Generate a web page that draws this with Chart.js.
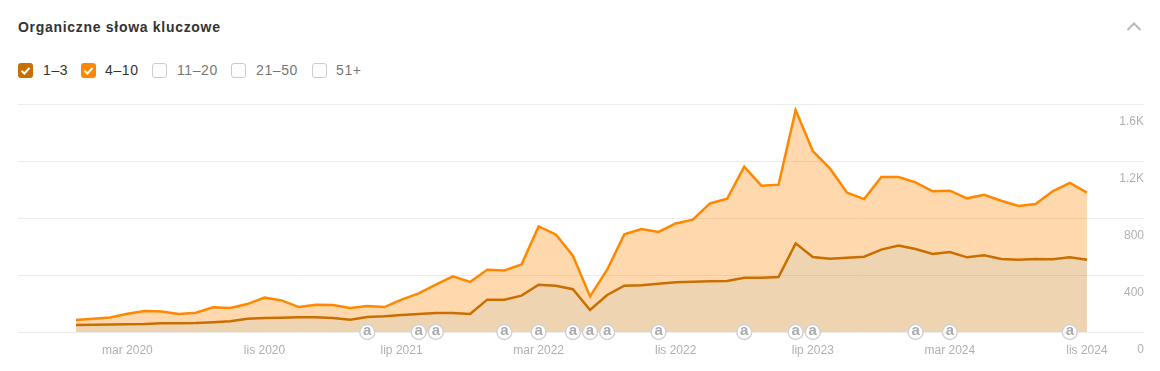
<!DOCTYPE html>
<html lang="pl">
<head>
<meta charset="utf-8">
<title>Organiczne słowa kluczowe</title>
<script src="https://cdn.jsdelivr.net/npm/chart.js@4/dist/chart.umd.min.js"></script>
<style>
    html, body { margin: 0; padding: 0; background: #fff; overflow: hidden; }
    body { width: 1160px; height: 371px; position: relative; font-family: "Liberation Sans", Arial, sans-serif; }
    #title { position: absolute; left: 18px; top: 18px; font-size: 14px; line-height: 18px; font-weight: bold; color: #333; letter-spacing: .7px; }
    #chevron { position: absolute; left: 1125px; top: 20px; }
    .check { position: absolute; top: 63px; width: 15px; height: 15px; box-sizing: border-box; border-radius: 3px; border: 1px solid #ccc; background: #fff; }
    .check.on { border: 0; }
    .check svg { display: block; }
    .lbl { position: absolute; top: 61px; font-size: 14px; line-height: 18px; color: #767676; letter-spacing: .6px; }
    .lbl.on { color: #333; }
    #wrap { position: absolute; left: 0; top: 90px; width: 1160px; height: 281px; }
</style>
</head>
<body>
<div id="title">Organiczne słowa kluczowe</div>
<svg id="chevron" width="18" height="12"><polyline points="2.5,10 9,3.5 15.5,10" fill="none" stroke="#b8b8b8" stroke-width="2"/></svg>
<div id="filters"></div>
<div id="wrap"><canvas id="myChart"></canvas></div>

<script>
"use strict";

const categories = [
    "gru 2019",
    "sty 2020","lut 2020","mar 2020","kwi 2020","maj 2020","cze 2020","lip 2020","sie 2020","wrz 2020","paź 2020","lis 2020","gru 2020",
    "sty 2021","lut 2021","mar 2021","kwi 2021","maj 2021","cze 2021","lip 2021","sie 2021","wrz 2021","paź 2021","lis 2021","gru 2021",
    "sty 2022","lut 2022","mar 2022","kwi 2022","maj 2022","cze 2022","lip 2022","sie 2022","wrz 2022","paź 2022","lis 2022","gru 2022",
    "sty 2023","lut 2023","mar 2023","kwi 2023","maj 2023","cze 2023","lip 2023","sie 2023","wrz 2023","paź 2023","lis 2023","gru 2023",
    "sty 2024","lut 2024","mar 2024","kwi 2024","maj 2024","cze 2024","lip 2024","sie 2024","wrz 2024","paź 2024","lis 2024"
];
const pos1to3 = [
    49,51,53,54,56,61,61,63,68,75,93,98,100,103,103,98,86,105,110,119,
    126,133,133,126,227,227,255,332,325,300,154,260,325,328,339,349,353,356,358,381,
    381,386,622,526,514,521,528,578,606,582,547,561,524,538,512,507,512,510,524,507
];
const pos4to10 = [
    84,93,102,128,147,144,126,135,173,168,196,241,222,175,191,189,168,182,175,227,
    271,332,390,351,437,432,474,741,685,535,250,437,685,723,702,762,788,902,935,1160,
    1027,1034,1558,1270,1148,978,933,1088,1088,1050,987,992,938,963,921,884,898,987,1046,978
];
const annotationMonths = [
    "maj 2021","sie 2021","wrz 2021","sty 2022","mar 2022","maj 2022","cze 2022","lip 2022","paź 2022",
    "mar 2023","cze 2023","lip 2023","sty 2024","mar 2024","paź 2024"
];
const xTickLabels = ["mar 2020","lis 2020","lip 2021","mar 2022","lis 2022","lip 2023","mar 2024","lis 2024"];
const yTickValues = [0, 400, 800, 1200, 1600];
const yTickLabels = ["0", "400", "800", "1.2K", "1.6K"];

const filterNames = ["1–3", "4–10", "11–20", "21–50", "51+"];
const filterColors = ["#c96f00", "#ff8800", null, null, null];
const filterBoxX = [18, 81, 152, 231, 312];
const filterTextX = [43, 105, 177, 256, 336];

const CHECK_SVG = '<svg width="15" height="15"><polyline points="3.5,7.8 6.4,10.5 11.5,4.8" fill="none" stroke="#fff" stroke-width="2"/></svg>';

for (let i = 0; i < filterNames.length; i++) {
    let box = document.createElement("div");
    box.className = "check" + (filterColors[i] ? " on" : "");
    box.style.left = filterBoxX[i] + "px";
    if (filterColors[i]) {
        box.style.background = filterColors[i];
        box.innerHTML = CHECK_SVG;
    }
    let lbl = document.createElement("div");
    lbl.className = "lbl" + (filterColors[i] ? " on" : "");
    lbl.style.left = filterTextX[i] + "px";
    lbl.textContent = filterNames[i];
    document.body.appendChild(box);
    document.body.appendChild(lbl);
}

function toPoints(values) {
    return values.map(function (v, i) { return { x: i, y: v }; });
}

// the little "a" inside each annotation circle
const annotationText = {
    id: "annotationText",
    afterDatasetsDraw(chart) {
        let ctx = chart.ctx;
        let x = chart.scales.x, y = chart.scales.y;
        ctx.save();
        ctx.font = "bold 15px 'Liberation Sans', Arial, sans-serif";
        ctx.fillStyle = "#ababab";
        ctx.textAlign = "center";
        ctx.textBaseline = "middle";
        annotationMonths.forEach(function (m) {
            ctx.fillText("a", x.getPixelForValue(categories.indexOf(m)), y.getPixelForValue(0) - 1);
        });
        ctx.restore();
    }
};

new Chart(document.getElementById("myChart"), {
    type: "line",
    plugins: [annotationText],
    data: {
        datasets: [
            {
                label: "annotations",
                data: annotationMonths.map(function (m) { return { x: categories.indexOf(m), y: 0 }; }),
                showLine: false,
                pointRadius: 7.5,
                pointBorderWidth: 1.5,
                pointBackgroundColor: "#fff",
                pointBorderColor: "#d2d2d2",
                clip: false,
                order: 0
            },
            {
                label: "1–3",
                data: toPoints(pos1to3),
                borderColor: "#c96f00",
                backgroundColor: "rgba(201,111,0,0.3)",
                borderWidth: 2.5,
                pointRadius: 0,
                tension: 0,
                fill: "origin",
                order: 1
            },
            {
                label: "4–10",
                data: toPoints(pos4to10),
                borderColor: "#ff8800",
                backgroundColor: "rgba(255,136,0,0.32)",
                borderWidth: 2.5,
                pointRadius: 0,
                tension: 0,
                fill: 1,
                order: 2
            }
        ]
    },
    options: {
        responsive: true,
        maintainAspectRatio: false,
        animation: false,
        layout: { padding: { left: 18, right: 16, top: 14, bottom: 0 } },
        plugins: { legend: { display: false }, tooltip: { enabled: false } },
        scales: {
            x: {
                type: "linear",
                min: -3.385,
                max: 62.33,
                grid: { display: false },
                border: { display: false },
                afterBuildTicks: function (scale) {
                    scale.ticks = xTickLabels.map(function (l) { return { value: categories.indexOf(l) }; });
                },
                afterFit: function (scale) { scale.height = 39; },
                ticks: {
                    autoSkip: false,
                    maxRotation: 0,
                    padding: 3,
                    color: "#b0b0b0",
                    font: { family: "'Liberation Sans', Arial, sans-serif", size: 12 },
                    callback: function (v) { return categories[v]; }
                }
            },
            y: {
                position: "right",
                min: 0,
                max: 1600,
                grid: { color: "#ececec", drawTicks: false },
                border: { display: false },
                afterBuildTicks: function (scale) {
                    scale.ticks = yTickValues.map(function (v) { return { value: v }; });
                },
                afterFit: function (scale) { scale.width = 0; },
                ticks: {
                    mirror: true,
                    padding: 0,
                    labelOffset: 18,
                    color: "#b0b0b0",
                    font: { family: "'Liberation Sans', Arial, sans-serif", size: 12 },
                    callback: function (v, i) { return yTickLabels[i]; }
                }
            }
        }
    }
});
</script>
</body>
</html>
